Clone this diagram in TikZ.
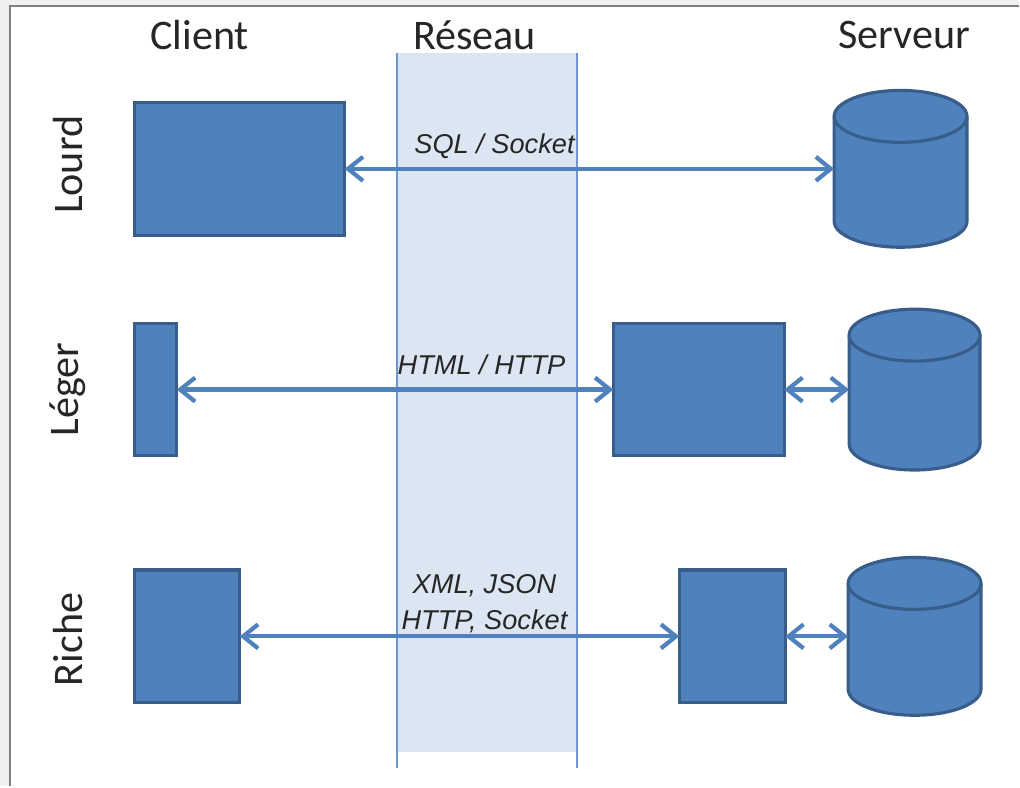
\documentclass[tikz,border=0pt]{standalone}
\usepackage{fontspec}
\setmainfont{Carlito}
\newfontfamily\protofont{Liberation Sans}
\usetikzlibrary{positioning,shapes.geometric,arrows.meta}
\definecolor{boxblue}{RGB}{79,129,189}
\definecolor{boxedge}{RGB}{56,93,138}
\definecolor{bandblue}{RGB}{220,230,242}
\definecolor{bandline}{RGB}{111,151,204}
\definecolor{framegray}{RGB}{128,128,128}
\definecolor{margingray}{RGB}{240,240,240}
% cylinder drawn over a named (invisible) node: #1 node, #2 x radius
\newcommand{\dbdraw}[2]{%
  \filldraw[dbline] ([yshift=-0.52cm]#1.north west) -- ([yshift=0.52cm]#1.south west)
    arc[start angle=180,end angle=360,x radius=#2,y radius=0.52cm]
    -- ([yshift=-0.52cm]#1.north east)
    arc[start angle=0,end angle=180,x radius=#2,y radius=0.52cm] -- cycle;
  \draw[dbline] ([yshift=-0.52cm]#1.north west)
    arc[start angle=180,end angle=360,x radius=#2,y radius=0.52cm];}

\begin{document}
\begin{tikzpicture}[x=0.02cm,y=-0.02cm,
    box/.style={draw=boxedge,fill=boxblue,line width=1.8pt,inner sep=0pt,outer sep=0pt},
    db/.style={inner sep=0pt,outer sep=0pt},
    dbline/.style={draw=boxedge,fill=boxblue,line width=1.8pt},
    link/.style={{Straight Barb[length=3mm,width=4.8mm]}-{Straight Barb[length=3mm,width=4.8mm]},
        line width=2.4pt,boxblue},
    proto/.style={font=\protofont\itshape\fontsize{15.5}{20.5}\selectfont,text=black!85},
    head/.style={font=\fontsize{24}{28}\selectfont,text=black!85}]
    % Frame
    \fill[margingray] (0,0) rectangle (1020,787);
    \fill[white] (10,6) rectangle (1020,787);
    \draw[framegray,line width=1.2pt] (10,787) -- (10,6) -- (1020,6);

    % Network band
    \fill[bandblue] (397,53) rectangle (578,753);
    \draw[bandline,line width=1.2pt] (397,53) -- (397,769);
    \draw[bandline,line width=1.2pt] (578,53) -- (578,769);

    % Column and row titles
    \node[head] (client) at (200,35) {Client};
    \node[head] (reseau) at (475,35) {Réseau};
    \node[head] (serveur) at (905,35) {Serveur};
    \node[head,rotate=90] (lourd) at (68,165) {Lourd};
    \node[head,rotate=90] (leger) at (68,390) {Léger};
    \node[head,rotate=90] (riche) at (68,640) {Riche};

    % Lourd
    \node[box,minimum width=4.2cm,minimum height=2.66cm] (lclient) at (240,169) {};
    \node[db,minimum width=2.66cm,minimum height=3.14cm] (ldb) at (901.5,169) {};
    \dbdraw{ldb}{1.33cm}
    \draw[link] (lclient) -- (ldb);
    \node[proto] (lproto) at (495,146) {SQL / Socket};

    % Leger
    \node[box,minimum width=0.84cm,minimum height=2.64cm] (gclient) at (156,390) {};
    \node[box,minimum width=3.42cm,minimum height=2.64cm] (gserver) at (699.5,390) {};
    \node[db,minimum width=2.62cm,minimum height=3.22cm] (gdb) at (915.5,390) {};
    \dbdraw{gdb}{1.31cm}
    \draw[link] (gclient) -- (gserver);
    \draw[link] (gserver) -- (gdb);
    \node[proto] (gproto) at (482,365) {HTML / HTTP};

    % Riche
    \node[box,minimum width=2.1cm,minimum height=2.66cm] (rclient) at (187.5,637) {};
    \node[box,minimum width=2.12cm,minimum height=2.66cm] (rserver) at (733,637) {};
    \node[db,minimum width=2.66cm,minimum height=3.16cm] (rdb) at (915.5,637) {};
    \dbdraw{rdb}{1.33cm}
    \draw[link] (rclient) -- (rserver);
    \draw[link] (rserver) -- (rdb);
    \node[proto,align=center] (rproto) at (485,604) {XML, JSON\\HTTP, Socket};
\end{tikzpicture}
\end{document}
